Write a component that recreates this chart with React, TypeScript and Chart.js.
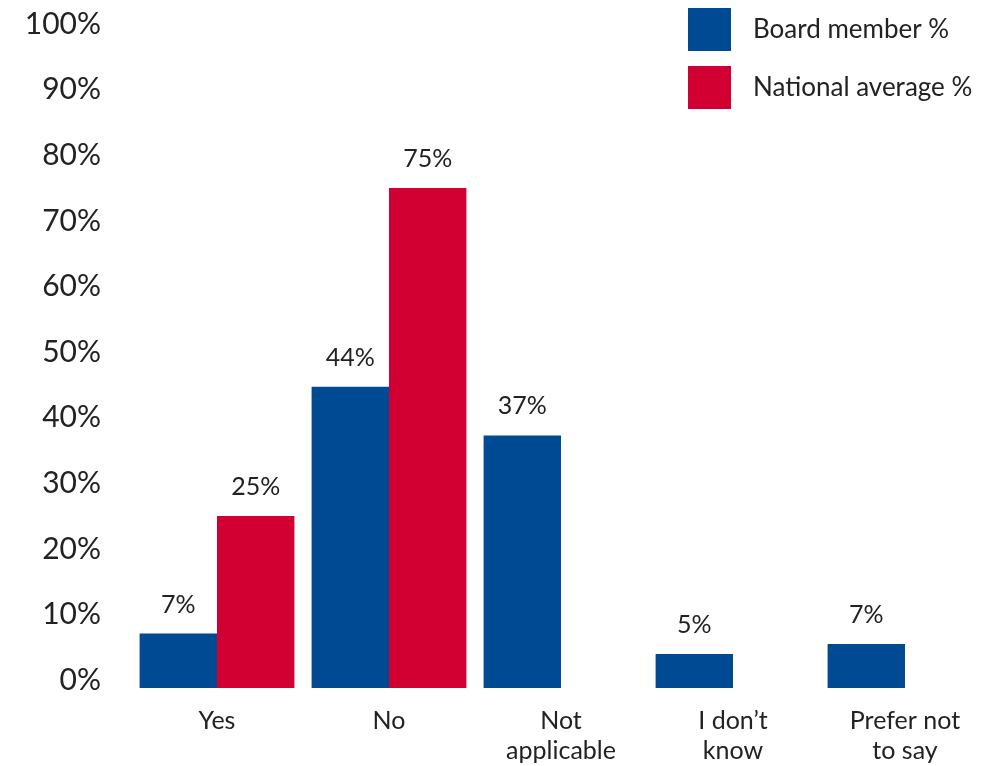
import React, { useEffect, useRef } from 'react';
import { Chart, registerables } from 'chart.js';

Chart.register(...registerables);

const categories: string[][] = [['Yes'], ['No'], ['Not', 'applicable'], ['I don’t', 'know'], ['Prefer not', 'to say']];
const seriesNames = ['Board member %', 'National average %'];
const seriesColors = ['#004A93', '#D20032'];
// bar heights as drawn in the picture
const boardValues = [7.1, 44.7, 37.3, 4.0, 5.5];
const nationalValues: (number | null)[] = [25, 75, null, null, null];
// value labels printed above bars
const boardLabels = ['7%', '44%', '37%', '5%', '7%'];
const nationalLabels = ['25%', '75%', '', '', ''];
const yTickValues = [0, 10, 20, 30, 40, 50, 60, 70, 80, 90, 100];

const FONT = 'Lato, "Open Sans", sans-serif';
const TEXT = '#222222';

const valueLabelPlugin = {
  id: 'valueLabels',
  afterDatasetsDraw(chart: any) {
    const ctx = chart.ctx;
    const labelSets = [boardLabels, nationalLabels];
    ctx.save();
    ctx.font = `25px ${FONT}`;
    ctx.fillStyle = TEXT;
    ctx.textAlign = 'center';
    ctx.textBaseline = 'alphabetic';
    chart.data.datasets.forEach((_ds: any, di: number) => {
      const meta = chart.getDatasetMeta(di);
      meta.data.forEach((bar: any, i: number) => {
        const txt = labelSets[di][i];
        if (!txt || chart.data.datasets[di].data[i] == null) return;
        ctx.fillText(txt, bar.x, bar.y - 21);
      });
    });
    ctx.restore();
  },
};

const legendPlugin = {
  id: 'boxLegend',
  afterDraw(chart: any) {
    const ctx = chart.ctx;
    ctx.save();
    const x0 = 688;
    const tops = [8, 66];
    const size = 43;
    ctx.font = `26px ${FONT}`;
    ctx.textAlign = 'left';
    ctx.textBaseline = 'middle';
    chart.data.datasets.forEach((ds: any, i: number) => {
      ctx.fillStyle = ds.backgroundColor;
      ctx.fillRect(x0, tops[i], size, size);
      ctx.fillStyle = TEXT;
      ctx.fillText(ds.label, x0 + size + 22, tops[i] + size / 2);
    });
    ctx.restore();
  },
};

export default function App() {
  const ref = useRef<HTMLCanvasElement>(null);
  useEffect(() => {
    document.body.style.margin = '0';
    if (!ref.current) return;
    const chart = new Chart(ref.current, {
      type: 'bar',
      data: {
        labels: categories,
        datasets: [
          {
            label: seriesNames[0],
            data: boardValues,
            backgroundColor: seriesColors[0],
            base: -1.2,
            categoryPercentage: 0.9,
            barPercentage: 1.0,
          } as any,
          {
            label: seriesNames[1],
            data: nationalValues,
            backgroundColor: seriesColors[1],
            base: -1.2,
            categoryPercentage: 0.9,
            barPercentage: 1.0,
          } as any,
        ],
      },
      options: {
        animation: false,
        responsive: false,
        maintainAspectRatio: false,
        layout: { padding: { top: 24, right: 5, bottom: 0, left: 0 } },
        plugins: {
          legend: { display: false },
          tooltip: { enabled: false },
        },
        scales: {
          x: {
            grid: { display: false, drawTicks: false },
            border: { display: false },
            ticks: {
              font: { family: FONT, size: 25, lineHeight: 1.2 },
              color: TEXT,
              padding: 18,
              maxRotation: 0,
              autoSkip: false,
            },
            afterFit(scale: any) {
              scale.height = 78;
              scale.paddingLeft = 0;
              scale.paddingRight = 0;
            },
          },
          y: {
            min: -1.2,
            max: 100,
            grid: { display: false, drawTicks: false },
            border: { display: false },
            afterBuildTicks(scale: any) {
              scale.ticks = yTickValues.map((v) => ({ value: v }));
            },
            ticks: {
              font: { family: FONT, size: 30 },
              color: TEXT,
              padding: 30,
              callback: (v: any) => `${v}%`,
            },
            afterFit(scale: any) {
              scale.width = 131;
              scale.paddingTop = 0;
              scale.paddingBottom = 0;
            },
          },
        },
      },
      plugins: [valueLabelPlugin, legendPlugin],
    });
    return () => chart.destroy();
  }, []);
  return (
    <div style={{ width: 996, height: 766, background: '#fff' }}>
      <canvas ref={ref} width={996} height={766} style={{ display: 'block' }} />
    </div>
  );
}
